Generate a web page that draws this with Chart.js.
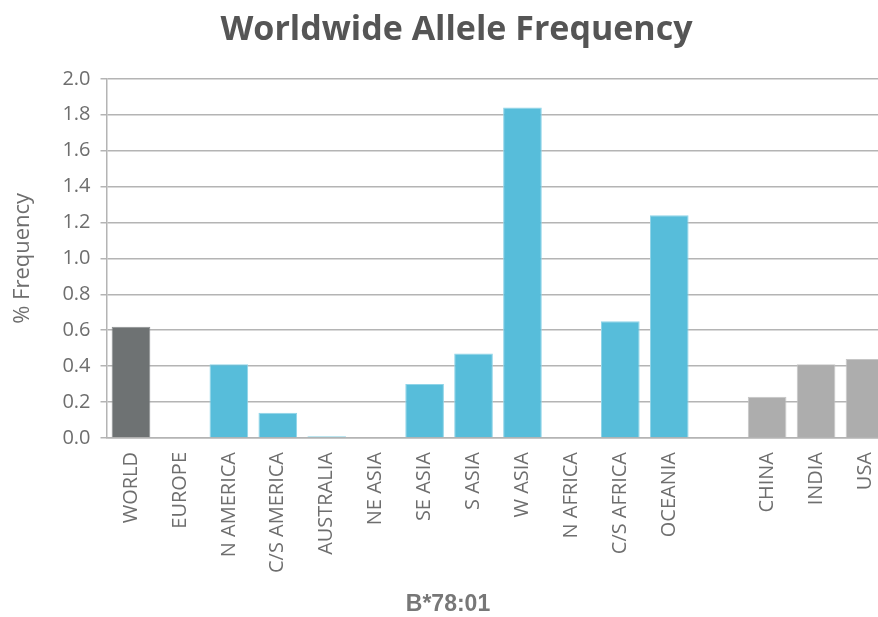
<!DOCTYPE html>
<html>
<head>
<meta charset="utf-8">
<script src="https://cdn.jsdelivr.net/npm/chart.js@4.4.0/dist/chart.umd.min.js"></script>
<style>
  html, body { margin: 0; padding: 0; background: #fff; overflow: hidden; }
  #wrap { width: 903px; height: 617px; }
</style>
</head>
<body>
<div id="wrap"><canvas id="alleleChart"></canvas></div>
<script>
// Categories along the x axis (one blank slot separates the countries)
const regions = ['WORLD', 'EUROPE', 'N AMERICA', 'C/S AMERICA', 'AUSTRALIA', 'NE ASIA', 'SE ASIA',
  'S ASIA', 'W ASIA', 'N AFRICA', 'C/S AFRICA', 'OCEANIA', '', 'CHINA', 'INDIA', 'USA'];

// % frequency of B*78:01
const frequency = [0.62, 0, 0.41, 0.14, 0.01, 0, 0.30, 0.47, 1.84, 0, 0.65, 1.24, null, 0.23, 0.41, 0.44];

// group of each bar: world / region / country
const groups = ['world', 'region', 'region', 'region', 'region', 'region', 'region',
  'region', 'region', 'region', 'region', 'region', 'none', 'country', 'country', 'country'];

const yTicks = [0, 0.2, 0.4, 0.6, 0.8, 1.0, 1.2, 1.4, 1.6, 1.8, 2.0];
const xTitle = 'B*78:01';

document.addEventListener('DOMContentLoaded', () => {
    const groupColors = { world: '#6e7273', region: '#57bdda', country: '#adadad', none: '#ffffff' };
    const groupBorders = { world: '#8a8e8f', region: '#8fd4e8', country: '#c6c6c6', none: '#ffffff' };
    const textGray = '#6e6e6e';
    const gridGray = '#b4b4b4';

    // x axis title sits centred on the page, not on the plot area
    const xTitlePlugin = {
        id: 'xTitle',
        afterDraw(chart) {
            const c = chart.ctx;
            c.save();
            c.font = 'bold 23px "Liberation Sans", Arial, sans-serif';
            c.fillStyle = '#777777';
            c.textAlign = 'center';
            c.textBaseline = 'middle';
            c.fillText(xTitle, 448, 605);
            c.restore();
        }
    };

    const ctx = document.getElementById('alleleChart').getContext('2d');
    new Chart(ctx, {
        type: 'bar',
        data: {
            labels: regions,
            datasets: [{
                label: xTitle,
                data: frequency,
                backgroundColor: groups.map(g => groupColors[g]),
                borderColor: groups.map(g => groupBorders[g]),
                borderWidth: 1,
                barPercentage: 0.79,
                categoryPercentage: 1.0
            }]
        },
        options: {
            responsive: true,
            maintainAspectRatio: false,
            animation: false,
            layout: { padding: { left: 10, right: 0, top: 0, bottom: 30 } },
            plugins: {
                legend: { display: false },
                tooltip: { enabled: false },
                title: {
                    display: true,
                    text: 'Worldwide Allele Frequency',
                    color: '#555555',
                    font: { family: 'Open Sans', size: 34, weight: 'bold' },
                    padding: { top: 10, bottom: 28 }
                }
            },
            scales: {
                x: {
                    grid: { display: false, drawTicks: false },
                    border: { color: gridGray, width: 1.5 },
                    ticks: {
                        color: textGray,
                        font: { family: 'Open Sans', size: 20 },
                        maxRotation: 90,
                        minRotation: 90,
                        autoSkip: false,
                        padding: 14
                    }
                },
                y: {
                    min: 0,
                    max: 2,
                    afterBuildTicks: axis => { axis.ticks = yTicks.map(v => ({ value: v })); },
                    grid: { color: gridGray, lineWidth: 1.5, tickLength: 6 },
                    border: { color: gridGray, width: 1.5 },
                    ticks: {
                        color: textGray,
                        font: { family: 'Open Sans', size: 20 },
                        padding: 10,
                        callback: v => Number(v).toFixed(1)
                    },
                    title: {
                        display: true,
                        text: '% Frequency',
                        color: textGray,
                        font: { family: 'Open Sans', size: 22 },
                        padding: { top: 0, bottom: 16 }
                    }
                }
            }
        },
        plugins: [xTitlePlugin]
    });
});
</script>
</body>
</html>
